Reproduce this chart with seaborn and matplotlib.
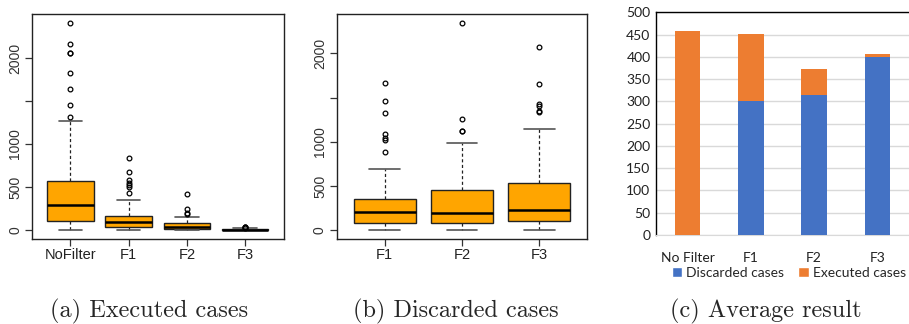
import numpy as np
import pandas as pd
import matplotlib
matplotlib.use("Agg")
import matplotlib.pyplot as plt
from matplotlib.patches import Patch
import seaborn as sns

# -------- data --------
# (a) executed cases per filter: q1, median, q3, whisker low/high, outliers
exec_labels = ["NoFilter", "F1", "F2", "F3"]
exec_q1 = [101, 35, 8, 0]
exec_med = [290, 93, 38, 4]
exec_q3 = [570, 167, 78, 9]
exec_lo = [0, 0, 0, 0]
exec_hi = [1265, 353, 151, 18]
exec_out = [
    [1314, 1450, 1636, 1829, 2055, 2062, 2159, 2411],
    [426, 496, 523, 550, 581, 678, 833],
    [190, 201, 240, 422],
    [26, 30, 34, 38],
]

# (b) discarded cases per filter
disc_labels = ["F1", "F2", "F3"]
disc_q1 = [83, 75, 102]
disc_med = [204, 196, 223]
disc_q3 = [355, 453, 536]
disc_lo = [0, 0, 0]
disc_hi = [691, 982, 1147]
disc_out = [
    [880, 1019, 1038, 1091, 1321, 1464, 1668],
    [1117, 1125, 1261, 2348],
    [1332, 1344, 1404, 1427, 1653, 2076],
]

# (c) average result
avg_labels = ["No Filter", "F1", "F2", "F3"]
avg_discarded = [0, 301, 314, 399]
avg_executed = [459, 150, 59, 8]

W, H = 909, 324
sns.set_style("white")
plt.rcParams["font.family"] = ["Liberation Sans", "DejaVu Sans"]

fig = plt.figure(figsize=(W / 100, H / 100), dpi=100)


def px_axes(left, top, right, bottom):
    return fig.add_axes([left / W, 1 - bottom / H, (right - left) / W, (bottom - top) / H])


def r_boxplot(ax, labels, q1, med, q3, lo, hi, out, ylim):
    stats = []
    for i, lab in enumerate(labels):
        stats.append(dict(label=lab, q1=q1[i], med=med[i], q3=q3[i],
                          whislo=lo[i], whishi=hi[i], fliers=out[i]))
    n = len(labels)
    pos = np.arange(1, n + 1)
    ax.bxp(stats, positions=pos, widths=0.8, capwidths=0.4, patch_artist=True,
           boxprops=dict(facecolor="#FFA500", edgecolor="#222222", linewidth=1.0),
           whiskerprops=dict(color="#222222", linestyle=(0, (2.5, 2)), linewidth=0.9),
           capprops=dict(color="#555555", linewidth=1.2),
           medianprops=dict(color="black", linewidth=1.8),
           flierprops=dict(marker="o", markersize=3.4, markerfacecolor="none",
                           markeredgecolor="black", markeredgewidth=0.9))
    ax.set_xlim(0.5 - 0.04 * n, n + 0.5 + 0.04 * n)
    ax.set_ylim(*ylim)
    ax.set_yticks([0, 500, 1000, 1500, 2000])
    ax.set_yticklabels(["0", "500", "1000", "", "2000"], rotation=90, va="center",
                       fontsize=10, color="#333333")
    ax.set_xticks(pos)
    ax.set_xticklabels(labels, fontsize=10.5, color="#222222")
    ax.tick_params(axis="y", length=5, width=0.9, color="#333333", pad=2, left=True)
    ax.tick_params(axis="x", length=5, width=0.9, color="#333333", pad=1.5, bottom=True)
    for s in ax.spines.values():
        s.set_visible(True)
        s.set_color("#222222")
        s.set_linewidth(1.0)


# -------- (a) --------
ax1 = px_axes(32, 14, 283.5, 239)
r_boxplot(ax1, exec_labels, exec_q1, exec_med, exec_q3, exec_lo, exec_hi, exec_out,
          (-105, 2512))

# -------- (b) --------
ax2 = px_axes(336.7, 14.3, 587.3, 238.7)
r_boxplot(ax2, disc_labels, disc_q1, disc_med, disc_q3, disc_lo, disc_hi, disc_out,
          (-98, 2443))

# -------- (c) --------
ax3 = px_axes(656, 12.3, 909, 235)
df = pd.DataFrame({"Filter": avg_labels,
                   "Discarded": avg_discarded,
                   "Executed": avg_executed})
df["Total"] = df["Discarded"] + df["Executed"]
sns.barplot(data=df, x="Filter", y="Total", color="#ED7D31", saturation=1,
            width=0.4, linewidth=0, ax=ax3, zorder=3)
sns.barplot(data=df, x="Filter", y="Discarded", color="#4472C4", saturation=1,
            width=0.4, linewidth=0, ax=ax3, zorder=4)
ax3.set_ylim(0, 500)
ax3.set_xlim(-0.5, 3.5)
ax3.set_yticks(np.arange(0, 501, 50))
ax3.grid(axis="y", color="#D9D9D9", linewidth=1.0, zorder=0)
ax3.set_axisbelow(True)
ax3.set_xlabel("")
ax3.set_ylabel("")
ax3.tick_params(axis="both", length=0, labelsize=10, colors="#222222")
ax3.tick_params(axis="x", pad=12)
ax3.tick_params(axis="y", pad=4)
for lab in ax3.get_xticklabels() + ax3.get_yticklabels():
    lab.set_family(["Lato", "DejaVu Sans"])
ax3.spines["left"].set_color("black")
ax3.spines["top"].set_color("black")
ax3.spines["bottom"].set_color("#D9D9D9")
ax3.spines["right"].set_visible(False)
for s in ("left", "top"):
    ax3.spines[s].set_linewidth(1.0)

handles = [Patch(facecolor="#4472C4", label="Discarded cases"),
           Patch(facecolor="#ED7D31", label="Executed cases")]
fig.legend(handles=handles, loc="center", bbox_to_anchor=(789 / W, 1 - 273 / H),
           ncol=2, frameon=False, handlelength=0.75, handleheight=0.75,
           handletextpad=0.3, columnspacing=1.0,
           prop={"family": ["Lato", "DejaVu Sans"], "size": 10})

# -------- captions --------
captions = ["(a) Executed cases", "(b) Discarded cases", "(c) Average result"]
cap_x = [149, 456, 766]
for txt, cx in zip(captions, cap_x):
    fig.text(cx / W, 1 - 311 / H, txt, ha="center", va="center",
             fontsize=17.5, family=["cmr10", "DejaVu Serif"])

fig.savefig("out.png", dpi=100)
